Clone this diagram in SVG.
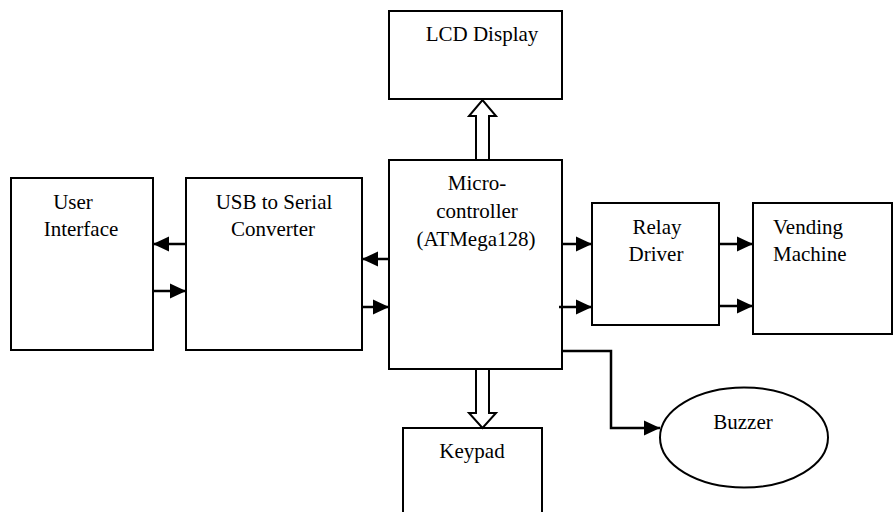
<svg xmlns="http://www.w3.org/2000/svg" width="894" height="512" viewBox="0 0 894 512">
  <style>
    .box { fill: #ffffff; stroke: #000000; stroke-width: 2; }
    text { font-family: 'Liberation Serif', 'DejaVu Serif', 'Times New Roman', Times, serif; font-size: 21px; fill: #000000; }
    .lbl { text-anchor: middle; }
    .lbl-l { text-anchor: start; }
    .wire { fill: none; stroke: #000000; stroke-width: 2.5; marker-end: url(#head); }
    .bus { fill: #ffffff; stroke: #000000; stroke-width: 2; stroke-linejoin: miter; }
  </style>
  <defs>
    <marker id="head" markerUnits="userSpaceOnUse" markerWidth="17" markerHeight="17" viewBox="0 0 17 17" refX="16" refY="8.5" orient="auto">
      <path d="M0,1 L16,8.5 L0,16 Z" fill="#000000"/>
    </marker>
  </defs>
  <rect width="894" height="512" fill="#ffffff"/>

  <g id="lcd-display">
    <rect class="box" x="389" y="11" width="173" height="88"/>
    <text class="lbl" x="482" y="41">LCD Display</text>
  </g>

  <g id="user-interface">
    <rect class="box" x="11" y="178" width="142" height="172"/>
    <text class="lbl" x="73" y="209">User</text>
    <text class="lbl" x="81" y="236">Interface</text>
  </g>

  <g id="usb-serial">
    <rect class="box" x="186" y="178" width="176" height="172"/>
    <text class="lbl" x="274" y="209">USB to Serial</text>
    <text class="lbl" x="273" y="236">Converter</text>
  </g>

  <g id="microcontroller">
    <rect class="box" x="389" y="160" width="173" height="209"/>
    <text class="lbl" x="477" y="190">Micro-</text>
    <text class="lbl" x="477" y="218">controller</text>
    <text class="lbl" x="476" y="246">(ATMega128)</text>
  </g>

  <g id="relay-driver">
    <rect class="box" x="592" y="203" width="127" height="122"/>
    <text class="lbl" x="657" y="234">Relay</text>
    <text class="lbl" x="656" y="261">Driver</text>
  </g>

  <g id="vending-machine">
    <rect class="box" x="753" y="203" width="139" height="131"/>
    <text class="lbl-l" x="773" y="234">Vending</text>
    <text class="lbl-l" x="773" y="261">Machine</text>
  </g>

  <g id="keypad">
    <rect class="box" x="403" y="428" width="139" height="100"/>
    <text class="lbl" x="472" y="458">Keypad</text>
  </g>

  <g id="buzzer">
    <ellipse class="box" cx="744" cy="437.5" rx="84" ry="50"/>
    <text class="lbl" x="743" y="429">Buzzer</text>
  </g>

  <g id="connectors">
    <!-- parallel buses to display and keypad -->
    <polygon class="bus" points="476,160 476,116 469,116 482.5,100 496,116 489,116 489,160"/>
    <polygon class="bus" points="476,369 476,413 469,413 482.5,428 496,413 489,413 489,369"/>
    <!-- user interface <-> USB converter -->
    <path class="wire" d="M186,244 L153,244"/>
    <path class="wire" d="M153,291 L186,291"/>
    <!-- USB converter <-> microcontroller -->
    <path class="wire" d="M389,259 L362,259"/>
    <path class="wire" d="M362,307 L389,307"/>
    <!-- microcontroller -> relay driver -->
    <path class="wire" d="M562,244 L592,244"/>
    <path class="wire" d="M559,307 L592,307"/>
    <!-- relay driver -> vending machine -->
    <path class="wire" d="M719,244 L753,244"/>
    <path class="wire" d="M719,306 L753,306"/>
    <!-- microcontroller -> buzzer -->
    <path class="wire" d="M562,351 L611,351 L611,428 L660,428"/>
  </g>
</svg>
